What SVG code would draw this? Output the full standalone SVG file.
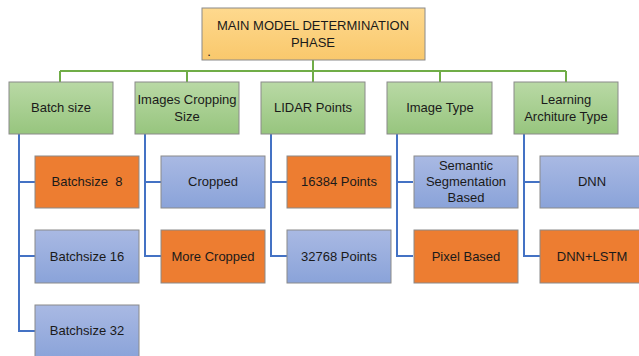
<svg xmlns="http://www.w3.org/2000/svg" width="639" height="356" viewBox="0 0 639 356">
<defs>
<linearGradient id="gGreen" x1="0" y1="0" x2="0" y2="1"><stop offset="0" stop-color="#b9d9a5"/><stop offset="1" stop-color="#97c57e"/></linearGradient>
<linearGradient id="gBlue" x1="0" y1="0" x2="0" y2="1"><stop offset="0" stop-color="#a9b9e3"/><stop offset="1" stop-color="#8aa3d9"/></linearGradient>
<linearGradient id="gTop" x1="0" y1="0" x2="0" y2="1"><stop offset="0" stop-color="#fed98e"/><stop offset="1" stop-color="#f9c86c"/></linearGradient>
<style>
.box{stroke:#8a8a8a;stroke-width:1}
.green{fill:url(#gGreen)}
.blue{fill:url(#gBlue)}
.orange{fill:#ed7d31}
.top{fill:url(#gTop)}
text{font-family:"Liberation Sans",Arial,sans-serif;font-size:13px;fill:#1a1a1a;text-anchor:middle;white-space:pre}
.gl{stroke:#70ad47;stroke-width:2;fill:none}
.bl{stroke:#4472c4;stroke-width:2;fill:none}
</style>
</defs>
<g id="connectors">
<path class="gl" d="M313 60V71M60 71H566M60 71V82M187 71V82M313 71V82M440 71V82M566 71V82"/>
<path class="bl" d="M19 134V331H35M19 182H35M19 256H35"/>
<path class="bl" d="M145 134V256H161M145 182H161"/>
<path class="bl" d="M271 134V256H287M271 182H287"/>
<path class="bl" d="M397 134V256H413M397 182H413"/>
<path class="bl" d="M524 134V256H540M524 182H540"/>
</g>
<g id="root"><rect class="box top" x="202" y="8" width="223" height="52"/><text x="313" y="30" font-size="13.5">MAIN MODEL DETERMINATION</text><text x="313" y="47" font-size="13.5">PHASE</text><text x="209" y="56" font-size="8">.</text></g>
<g id="batch"><rect class="box green" x="9" y="82" width="104" height="52"/><text x="61" y="112">Batch size</text></g>
<g id="crop"><rect class="box green" x="135" y="82" width="104" height="52"/><text x="187" y="104">Images Cropping</text><text x="187" y="121">Size</text></g>
<g id="lidar"><rect class="box green" x="261" y="82" width="104" height="52"/><text x="313" y="112">LIDAR Points</text></g>
<g id="imgtype"><rect class="box green" x="387" y="82" width="105" height="52"/><text x="440" y="112">Image Type</text></g>
<g id="learn"><rect class="box green" x="514" y="82" width="104" height="52"/><text x="566" y="104">Learning</text><text x="566" y="121">Architure Type</text></g>
<g id="b8"><rect class="box orange" x="35" y="156" width="104" height="52"/><text x="87" y="186" xml:space="preserve">Batchsize  8</text></g>
<g id="b16"><rect class="box blue" x="35" y="230" width="104" height="53"/><text x="87" y="261">Batchsize 16</text></g>
<g id="b32"><rect class="box blue" x="35" y="305" width="104" height="54"/><text x="87" y="335">Batchsize 32</text></g>
<g id="cropped"><rect class="box blue" x="161" y="156" width="104" height="52"/><text x="213" y="186">Cropped</text></g>
<g id="morecropped"><rect class="box orange" x="161" y="230" width="104" height="53"/><text x="213" y="261">More Cropped</text></g>
<g id="p16384"><rect class="box orange" x="287" y="156" width="104" height="52"/><text x="339" y="186">16384 Points</text></g>
<g id="p32768"><rect class="box blue" x="287" y="230" width="104" height="53"/><text x="339" y="261">32768 Points</text></g>
<g id="semantic"><rect class="box blue" x="414" y="156" width="104" height="52"/><text x="466" y="170">Semantic</text><text x="466" y="186">Segmentation</text><text x="466" y="202">Based</text></g>
<g id="pixel"><rect class="box orange" x="414" y="230" width="104" height="53"/><text x="466" y="261">Pixel Based</text></g>
<g id="dnn"><rect class="box blue" x="540" y="156" width="104" height="52"/><text x="592" y="186">DNN</text></g>
<g id="dnnlstm"><rect class="box orange" x="540" y="230" width="104" height="53"/><text x="592" y="261">DNN+LSTM</text></g>
</svg>
